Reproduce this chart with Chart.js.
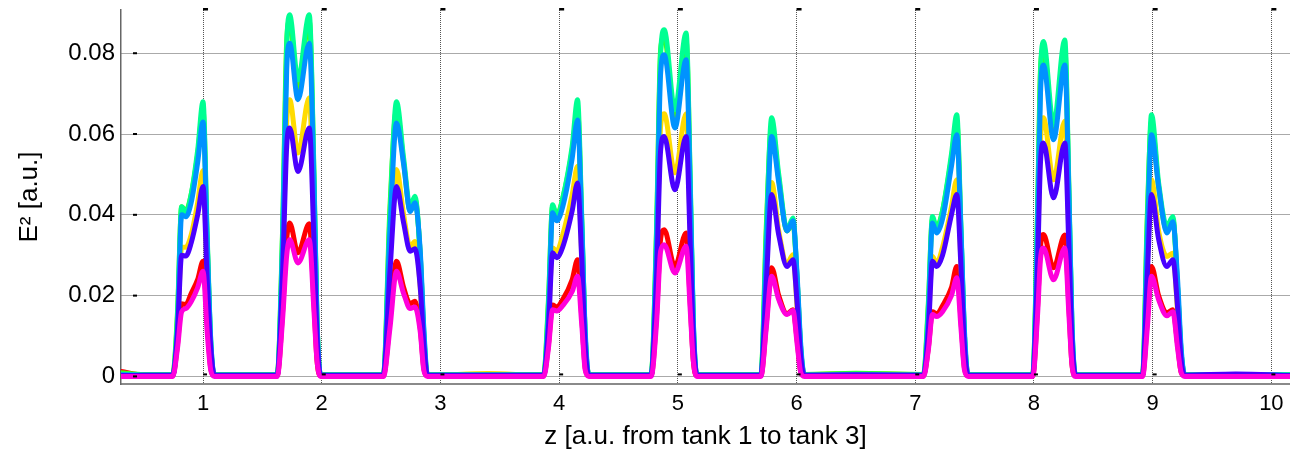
<!DOCTYPE html>
<html>
<head>
<meta charset="utf-8">
<script src="https://cdn.jsdelivr.net/npm/chart.js@4"></script>
<style>
  html, body { margin: 0; padding: 0; background: #fff; }
  #wrap { width: 1290px; height: 452px; }
</style>
</head>
<body>
<div id="wrap"><canvas id="chartE2"></canvas></div>
<script>
// z positions (a.u.), shared by every series
const zPos = [
  0.31, 0.5,
  0.745, 0.785, 0.82, 0.855, 0.90, 0.955, 1.0, 1.035, 1.065, 1.095,
  1.35,
  1.625, 1.67, 1.705, 1.73, 1.80, 1.895, 1.935, 1.96, 1.99,
  2.25,
  2.52, 2.575, 2.63, 2.69, 2.745, 2.785, 2.83, 2.86, 2.89,
  3.4,
  3.87, 3.91, 3.945, 3.98, 4.03, 4.11, 4.155, 4.19, 4.22, 4.25,
  4.5,
  4.775, 4.82, 4.855, 4.885, 4.975, 5.07, 5.105, 5.13, 5.16,
  5.45,
  5.70, 5.745, 5.79, 5.85, 5.92, 5.97, 6.005, 6.035, 6.065,
  6.5,
  7.07, 7.11, 7.145, 7.18, 7.23, 7.305, 7.35, 7.385, 7.415, 7.445,
  7.7,
  7.99, 8.03, 8.055, 8.08, 8.165, 8.26, 8.295, 8.32, 8.35,
  8.6,
  8.915, 8.955, 8.99, 9.05, 9.12, 9.17, 9.21, 9.24, 9.27,
  9.7, 10.16
];

const redE2 = [
  0.0012, 0.0003,
  0.0002, 0.008, 0.018, 0.0178, 0.0205, 0.024, 0.0285, 0.014, 0.002, 0.0002,
  0.0002,
  0.0002, 0.016, 0.034, 0.038, 0.0306, 0.0378, 0.018, 0.004, 0.0002,
  0.0002,
  0.0002, 0.014, 0.0285, 0.022, 0.018, 0.0186, 0.012, 0.002, 0.0002,
  0.0002,
  0.0002, 0.008, 0.0177, 0.0172, 0.019, 0.024, 0.0289, 0.015, 0.002, 0.0002,
  0.0002,
  0.0002, 0.015, 0.034, 0.0363, 0.0272, 0.0355, 0.018, 0.004, 0.0002,
  0.0002,
  0.0002, 0.013, 0.0269, 0.020, 0.0155, 0.0165, 0.009, 0.0012, 0.0002,
  0.0002,
  0.0002, 0.007, 0.016, 0.0155, 0.0175, 0.022, 0.0272, 0.014, 0.002, 0.0002,
  0.0002,
  0.0002, 0.017, 0.032, 0.0351, 0.0269, 0.035, 0.017, 0.003, 0.0002,
  0.0002,
  0.0002, 0.014, 0.0272, 0.020, 0.0158, 0.0165, 0.008, 0.001, 0.0002,
  0.0002, 0.0002
];

const goldE2 = [
  0.0004, 0.0003,
  0.0003, 0.012, 0.032, 0.032, 0.035, 0.043, 0.051, 0.025, 0.006, 0.0003,
  0.0003,
  0.0003, 0.028, 0.063, 0.0685, 0.0553, 0.069, 0.036, 0.010, 0.0003,
  0.0004,
  0.0003, 0.030, 0.0512, 0.040, 0.032, 0.0334, 0.022, 0.006, 0.0003,
  0.0007,
  0.0003, 0.014, 0.0318, 0.031, 0.035, 0.045, 0.052, 0.030, 0.006, 0.0003,
  0.0004,
  0.0003, 0.027, 0.062, 0.065, 0.0504, 0.065, 0.035, 0.009, 0.0003,
  0.0003,
  0.0003, 0.026, 0.048, 0.036, 0.028, 0.0301, 0.017, 0.004, 0.0003,
  0.0003,
  0.0003, 0.013, 0.0297, 0.028, 0.032, 0.042, 0.0487, 0.028, 0.006, 0.0003,
  0.0003,
  0.0003, 0.030, 0.058, 0.064, 0.0487, 0.0632, 0.034, 0.008, 0.0003,
  0.0003,
  0.0003, 0.028, 0.0487, 0.036, 0.0297, 0.0305, 0.016, 0.003, 0.0003,
  0.0003, 0.0003
];

const greenE2 = [
  0.0009, 0.0005,
  0.0005, 0.016, 0.042, 0.041, 0.045, 0.055, 0.066, 0.034, 0.008, 0.0005,
  0.0005,
  0.0005, 0.036, 0.083, 0.088, 0.071, 0.088, 0.049, 0.014, 0.0005,
  0.0005,
  0.0005, 0.042, 0.066, 0.053, 0.041, 0.044, 0.030, 0.010, 0.0005,
  0.0005,
  0.0005, 0.019, 0.042, 0.040, 0.044, 0.056, 0.066, 0.039, 0.010, 0.0005,
  0.0005,
  0.0005, 0.036, 0.081, 0.084, 0.064, 0.083, 0.047, 0.013, 0.0005,
  0.0005,
  0.0005, 0.037, 0.062, 0.049, 0.036, 0.038, 0.024, 0.007, 0.0005,
  0.0008,
  0.0005, 0.018, 0.039, 0.037, 0.041, 0.054, 0.063, 0.036, 0.010, 0.0005,
  0.0005,
  0.0005, 0.041, 0.076, 0.081, 0.060, 0.081, 0.045, 0.012, 0.0005,
  0.0005,
  0.0005, 0.040, 0.063, 0.047, 0.036, 0.039, 0.022, 0.006, 0.0005,
  0.0005, 0.0004
];

const springE2 = [
  0.0006, 0.0004,
  0.0004, 0.015, 0.042, 0.0405, 0.045, 0.056, 0.068, 0.035, 0.009, 0.0004,
  0.0004,
  0.0004, 0.035, 0.082, 0.0895, 0.0734, 0.0895, 0.050, 0.014, 0.0004,
  0.0004,
  0.0004, 0.040, 0.068, 0.054, 0.042, 0.0446, 0.030, 0.011, 0.0004,
  0.0004,
  0.0004, 0.018, 0.0425, 0.0393, 0.044, 0.057, 0.0685, 0.040, 0.010, 0.0004,
  0.0004,
  0.0004, 0.035, 0.080, 0.0858, 0.066, 0.085, 0.048, 0.014, 0.0004,
  0.0004,
  0.0004, 0.035, 0.064, 0.050, 0.0363, 0.0392, 0.024, 0.007, 0.0004,
  0.0006,
  0.0004, 0.017, 0.0396, 0.0363, 0.041, 0.055, 0.0648, 0.037, 0.010, 0.0004,
  0.0004,
  0.0004, 0.040, 0.075, 0.0829, 0.0623, 0.0833, 0.046, 0.013, 0.0004,
  0.0004,
  0.0004, 0.038, 0.0648, 0.048, 0.0371, 0.0396, 0.022, 0.006, 0.0004,
  0.0004, 0.0004
];

const azureE2 = [
  0.0004, 0.0003,
  0.0003, 0.012, 0.040, 0.0395, 0.043, 0.053, 0.063, 0.033, 0.009, 0.0003,
  0.0003,
  0.0003, 0.032, 0.076, 0.0825, 0.0685, 0.0825, 0.047, 0.014, 0.0003,
  0.0003,
  0.0003, 0.036, 0.0627, 0.0525, 0.0408, 0.043, 0.031, 0.012, 0.0003,
  0.0003,
  0.0003, 0.015, 0.0405, 0.0385, 0.042, 0.054, 0.0635, 0.038, 0.011, 0.0003,
  0.0003,
  0.0003, 0.032, 0.075, 0.0796, 0.0615, 0.0784, 0.045, 0.014, 0.0003,
  0.0003,
  0.0003, 0.031, 0.0594, 0.048, 0.036, 0.0385, 0.025, 0.008, 0.0003,
  0.0003,
  0.0003, 0.014, 0.038, 0.0355, 0.039, 0.052, 0.0598, 0.036, 0.011, 0.0003,
  0.0003,
  0.0003, 0.036, 0.070, 0.0771, 0.0586, 0.0771, 0.044, 0.013, 0.0003,
  0.0003,
  0.0003, 0.034, 0.0598, 0.047, 0.0355, 0.0383, 0.024, 0.007, 0.0003,
  0.0005, 0.0003
];

const violetE2 = [
  0.0002, 0.0003,
  0.0003, 0.011, 0.030, 0.0298, 0.033, 0.040, 0.047, 0.024, 0.007, 0.0003,
  0.0003,
  0.0003, 0.025, 0.057, 0.0615, 0.0507, 0.0615, 0.033, 0.010, 0.0003,
  0.0003,
  0.0003, 0.026, 0.047, 0.038, 0.031, 0.0316, 0.022, 0.008, 0.0003,
  0.0003,
  0.0003, 0.012, 0.0306, 0.0294, 0.032, 0.041, 0.0479, 0.029, 0.007, 0.0003,
  0.0003,
  0.0003, 0.024, 0.056, 0.0594, 0.0462, 0.0594, 0.032, 0.010, 0.0003,
  0.0003,
  0.0003, 0.023, 0.045, 0.035, 0.0272, 0.0289, 0.018, 0.005, 0.0003,
  0.0004,
  0.0003, 0.011, 0.0285, 0.0272, 0.030, 0.040, 0.045, 0.027, 0.007, 0.0003,
  0.0003,
  0.0003, 0.027, 0.053, 0.0578, 0.0442, 0.0578, 0.031, 0.009, 0.0003,
  0.0003,
  0.0003, 0.025, 0.045, 0.034, 0.0272, 0.0289, 0.017, 0.004, 0.0003,
  0.0006, 0.0002
];

const magentaE2 = [
  0, 0,
  0, 0.007, 0.016, 0.0168, 0.0185, 0.022, 0.026, 0.011, 0.0015, 0,
  0,
  0, 0.014, 0.030, 0.0338, 0.0281, 0.0338, 0.016, 0.004, 0,
  0,
  0, 0.012, 0.026, 0.0205, 0.0168, 0.0172, 0.011, 0.0015, 0,
  0,
  0, 0.007, 0.0165, 0.0162, 0.0175, 0.021, 0.0248, 0.013, 0.0015, 0,
  0,
  0, 0.013, 0.031, 0.0326, 0.0256, 0.0322, 0.016, 0.004, 0,
  0,
  0, 0.012, 0.0248, 0.019, 0.0153, 0.0163, 0.008, 0.001, 0,
  0,
  0, 0.0065, 0.0153, 0.0148, 0.016, 0.020, 0.0244, 0.012, 0.0015, 0,
  0,
  0, 0.015, 0.029, 0.0318, 0.0239, 0.0318, 0.015, 0.003, 0,
  0,
  0, 0.012, 0.0248, 0.019, 0.015, 0.016, 0.007, 0.001, 0,
  0, 0
];

const seriesE2 = [redE2, goldE2, greenE2, springE2, azureE2, violetE2, magentaE2];
const seriesColors = ["#ff0000", "#ffdb00", "#49ff00", "#00ff92", "#0092ff", "#4900ff", "#ff00db"];
const yTickValues = [0, 0.02, 0.04, 0.06, 0.08];

const font = "'Liberation Sans', Arial, Helvetica, sans-serif";

// little MATLAB style tick marks inside the box
const innerTicks = {
  id: "innerTicks",
  afterDraw(chart) {
    const { ctx, chartArea, scales } = chart;
    ctx.save();
    ctx.fillStyle = "#000";
    scales.x.ticks.forEach((t) => {
      const px = scales.x.getPixelForValue(t.value);
      ctx.fillRect(px, chartArea.top - 2, 5, 2.5);
      ctx.fillRect(px, scales.y.getPixelForValue(0) - 3, 4, 2);
    });
    scales.y.ticks.forEach((t) => {
      const py = scales.y.getPixelForValue(t.value);
      ctx.fillRect(chartArea.left + 12, py - 1, 4, 2);
    });
    ctx.restore();
  },
};

const ctx = document.getElementById("chartE2").getContext("2d");
const myChart = new Chart(ctx, {
  type: "line",
  data: {
    datasets: seriesE2.map((vals, i) => ({
      data: vals.map((v, k) => ({ x: zPos[k], y: v })),
      borderColor: seriesColors[i],
      backgroundColor: seriesColors[i],
      borderWidth: 5,
      pointRadius: 0,
      cubicInterpolationMode: "monotone",
      borderJoinStyle: "round",
      borderCapStyle: "round",
      fill: false,
      order: seriesE2.length - 1 - i,
    })),
  },
  options: {
    responsive: true,
    maintainAspectRatio: false,
    animation: false,
    layout: { padding: { top: 10, right: 0, left: 0, bottom: 0 } },
    plugins: {
      legend: { display: false },
      tooltip: { enabled: false },
    },
    scales: {
      x: {
        type: "linear",
        min: 0.309,
        max: 10.157,
        afterFit: (scale) => {
          scale.height = 68;
          scale.paddingLeft = 0;
          scale.paddingRight = 0;
        },
        ticks: {
          stepSize: 1,
          includeBounds: false,
          padding: 7,
          color: "#000",
          font: { family: font, size: 22 },
        },
        grid: { color: "#555", lineWidth: 1, drawTicks: false },
        border: { display: true, color: "#8a8a8a", width: 2, dash: [1, 1] },
        title: {
          display: true,
          text: "z [a.u. from tank 1 to tank 3]",
          color: "#000",
          font: { family: font, size: 26 },
          padding: { top: 0, bottom: 0 },
        },
      },
      y: {
        min: -0.00188,
        max: 0.0907,
        afterFit: (scale) => {
          scale.width = 121;
          scale.paddingTop = 0;
          scale.paddingBottom = 0;
        },
        afterBuildTicks: (scale) => {
          scale.ticks = yTickValues.map((v) => ({ value: v }));
        },
        ticks: {
          padding: 6,
          color: "#000",
          font: { family: font, size: 24 },
          callback: (v) => (v === 0 ? "0" : v.toFixed(2)),
        },
        grid: { color: "#555", lineWidth: 1, drawTicks: false },
        border: { display: true, color: "#666", width: 1.5, dash: [1, 1] },
        title: {
          display: true,
          text: "E² [a.u.]",
          color: "#000",
          font: { family: font, size: 26 },
          padding: { top: 14, bottom: 0 },
        },
      },
    },
  },
  plugins: [innerTicks],
});
</script>
</body>
</html>
